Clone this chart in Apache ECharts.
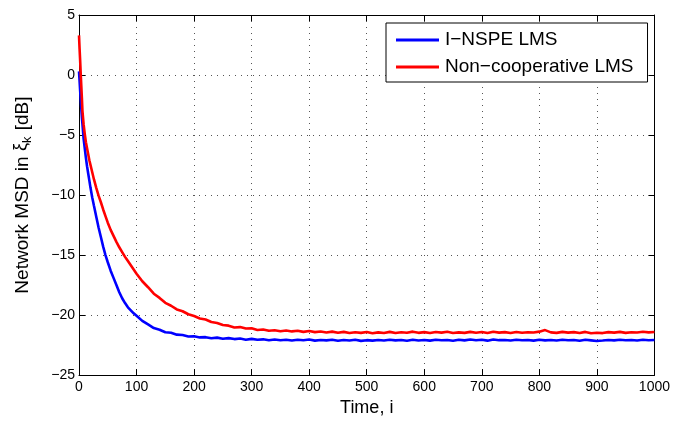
<!DOCTYPE html>
<html>
<head>
<meta charset="utf-8">
<script src="https://cdn.jsdelivr.net/npm/echarts@6/dist/echarts.min.js"></script>
<style>
html,body{margin:0;padding:0;background:#fff;}
#chart{width:673px;height:422px;}
</style>
</head>
<body>
<div id="chart"></div>
<script>
// Time index (iterations)
const timeSteps = [0,1,2,3,4,5,6,8,10,12,14,16,18,20,23,26,30,34,38,42,46,50,55,60,65,70,75,80,85,90,95,
  100,110,120,130,140,150,160,170,180,190,200,210,220,230,240,250,260,270,280,290,
  300,310,320,330,340,350,360,370,380,390,400,410,420,430,440,450,460,470,480,490,
  500,510,520,530,540,550,560,570,580,590,600,610,620,630,640,650,660,670,680,690,
  700,710,720,730,740,750,760,770,780,790,800,810,820,830,840,850,860,870,880,890,
  900,910,920,930,940,950,960,970,980,990,1000];

// I-NSPE LMS network MSD [dB]
const inspeMSD = [0.3,-0.5,-1.3,-2.1,-2.8,-3.5,-4.1,-5.3,-6.1,-6.9,-7.6,-8.2,-8.8,-9.4,-10.2,-10.9,-11.8,-12.7,-13.5,-14.3,-15.0,-15.6,-16.3,-16.9,-17.5,-18.1,-18.6,-19.0,-19.35,-19.6,-19.85,
  -20.05,-20.48,-20.78,-21.08,-21.22,-21.43,-21.47,-21.63,-21.66,-21.78,-21.76,-21.86,-21.84,-21.93,-21.88,-21.97,-21.92,-22.0,-21.95,-22.05,
  -21.98,-22.06,-22.02,-22.09,-22.03,-22.1,-22.05,-22.12,-22.06,-22.1,-22.04,-22.13,-22.07,-22.11,-22.05,-22.14,-22.08,-22.12,-22.06,-22.15,
  -22.09,-22.13,-22.07,-22.12,-22.05,-22.11,-22.08,-22.14,-22.06,-22.12,-22.07,-22.13,-22.05,-22.1,-22.08,-22.14,-22.06,-22.11,-22.04,-22.1,
  -22.06,-22.13,-22.03,-22.09,-22.07,-22.12,-22.05,-22.1,-22.08,-22.13,-22.06,-22.11,-22.07,-22.12,-22.05,-22.1,-22.08,-22.14,-22.06,-22.11,
  -22.16,-22.12,-22.07,-22.11,-22.05,-22.1,-22.08,-22.12,-22.06,-22.1,-22.07];

// Non-cooperative LMS network MSD [dB]
const noncoopMSD = [3.3,2.2,1.2,0.1,-0.9,-1.9,-3.0,-4.1,-4.9,-5.6,-6.1,-6.6,-7.1,-7.5,-8.1,-8.7,-9.4,-10.05,-10.6,-11.2,-11.75,-12.3,-12.9,-13.4,-13.9,-14.35,-14.75,-15.15,-15.5,-15.85,-16.2,
  -16.55,-17.18,-17.68,-18.22,-18.57,-18.98,-19.22,-19.53,-19.68,-19.93,-20.08,-20.28,-20.37,-20.58,-20.66,-20.83,-20.88,-21.03,-21.0,-21.12,
  -21.1,-21.24,-21.2,-21.31,-21.26,-21.34,-21.28,-21.36,-21.3,-21.4,-21.33,-21.42,-21.37,-21.45,-21.38,-21.47,-21.4,-21.5,-21.43,-21.48,
  -21.41,-21.52,-21.44,-21.49,-21.4,-21.5,-21.43,-21.47,-21.38,-21.48,-21.42,-21.5,-21.41,-21.46,-21.39,-21.49,-21.44,-21.48,-21.4,-21.47,
  -21.41,-21.5,-21.39,-21.46,-21.42,-21.49,-21.41,-21.47,-21.43,-21.45,-21.38,-21.25,-21.44,-21.48,-21.4,-21.46,-21.42,-21.49,-21.4,-21.52,
  -21.47,-21.5,-21.42,-21.46,-21.4,-21.48,-21.43,-21.45,-21.39,-21.44,-21.41];

const seriesNames = ['I\u2212NSPE LMS', 'Non\u2212cooperative LMS'];
const xTicks = {min: 0, max: 1000, interval: 100};
const yTicks = {min: -25, max: 5, interval: 5};

const FONT = '"Liberation Sans", Arial, Helvetica, sans-serif';
const fmt = v => String(v).replace('-', '\u2212');

function pairs(xs, ys){ return xs.map((x,i)=>[x, ys[i]]); }

const chart = echarts.init(document.getElementById('chart'), null, {renderer:'canvas'});

const gridLine = {show:true, lineStyle:{color:'#555', width:1, type:[1,5]}};

chart.setOption({
  backgroundColor:'#fff',
  animation:false,
  textStyle:{fontFamily:FONT},
  grid:{left:79, right:17, top:15, bottom:46},
  legend:{
    data:seriesNames.map(n=>({name:n, icon:'rect'})),
    orient:'vertical',
    left:386, top:23,
    itemWidth:43, itemHeight:3, itemGap:7,
    padding:[7,14,5,10],
    backgroundColor:'#fff', borderColor:'#000', borderWidth:1, borderRadius:0,
    textStyle:{fontSize:19, color:'#000', fontFamily:FONT, lineHeight:20, padding:[0,0,0,1]}
  },
  xAxis:[{
    type:'value', min:xTicks.min, max:xTicks.max, interval:xTicks.interval,
    name:'Time, i', nameLocation:'middle', nameGap:21,
    nameTextStyle:{fontSize:18, color:'#000', fontFamily:FONT},
    axisLine:{show:true, onZero:false, lineStyle:{color:'#000', width:1}},
    axisTick:{show:true, inside:true, length:6, lineStyle:{color:'#000'}},
    axisLabel:{fontSize:14, color:'#000', margin:5, fontFamily:FONT, formatter:fmt},
    splitLine:gridLine
  },{
    type:'value', position:'top', min:xTicks.min, max:xTicks.max, interval:xTicks.interval,
    axisLine:{show:true, onZero:false, lineStyle:{color:'#000', width:1}},
    axisTick:{show:true, inside:true, length:6, lineStyle:{color:'#000'}},
    axisLabel:{show:false}, splitLine:{show:false}
  }],
  yAxis:[{
    type:'value', min:yTicks.min, max:yTicks.max, interval:yTicks.interval,
    name:'Network MSD in {xi|\u03BE}{sub|k} [dB]', nameLocation:'middle', nameGap:45,
    nameTextStyle:{fontSize:19, color:'#000', fontFamily:FONT,
      rich:{
        xi:{fontSize:18, color:'#000', fontFamily:FONT, padding:[0,0,4,0]},
        sub:{fontSize:13, color:'#000', fontFamily:FONT, padding:[8,1,0,0]}
      }},
    axisLine:{show:true, onZero:false, lineStyle:{color:'#000', width:1}},
    axisTick:{show:true, inside:true, length:6, lineStyle:{color:'#000'}},
    axisLabel:{fontSize:14, color:'#000', margin:4, fontFamily:FONT, formatter:fmt},
    splitLine:gridLine
  },{
    type:'value', position:'right', min:yTicks.min, max:yTicks.max, interval:yTicks.interval,
    axisLine:{show:true, onZero:false, lineStyle:{color:'#000', width:1}},
    axisTick:{show:true, inside:true, length:6, lineStyle:{color:'#000'}},
    axisLabel:{show:false}, splitLine:{show:false}
  }],
  series:[{
    name:seriesNames[0], type:'line', xAxisIndex:0, yAxisIndex:0,
    data:pairs(timeSteps, inspeMSD), showSymbol:false, symbol:'none',
    lineStyle:{color:'#0000ff', width:2.6}, itemStyle:{color:'#0000ff'}
  },{
    name:seriesNames[1], type:'line', xAxisIndex:0, yAxisIndex:0,
    data:pairs(timeSteps, noncoopMSD), showSymbol:false, symbol:'none',
    lineStyle:{color:'#ff0000', width:2.6}, itemStyle:{color:'#ff0000'}
  }]
});
</script>
</body>
</html>
